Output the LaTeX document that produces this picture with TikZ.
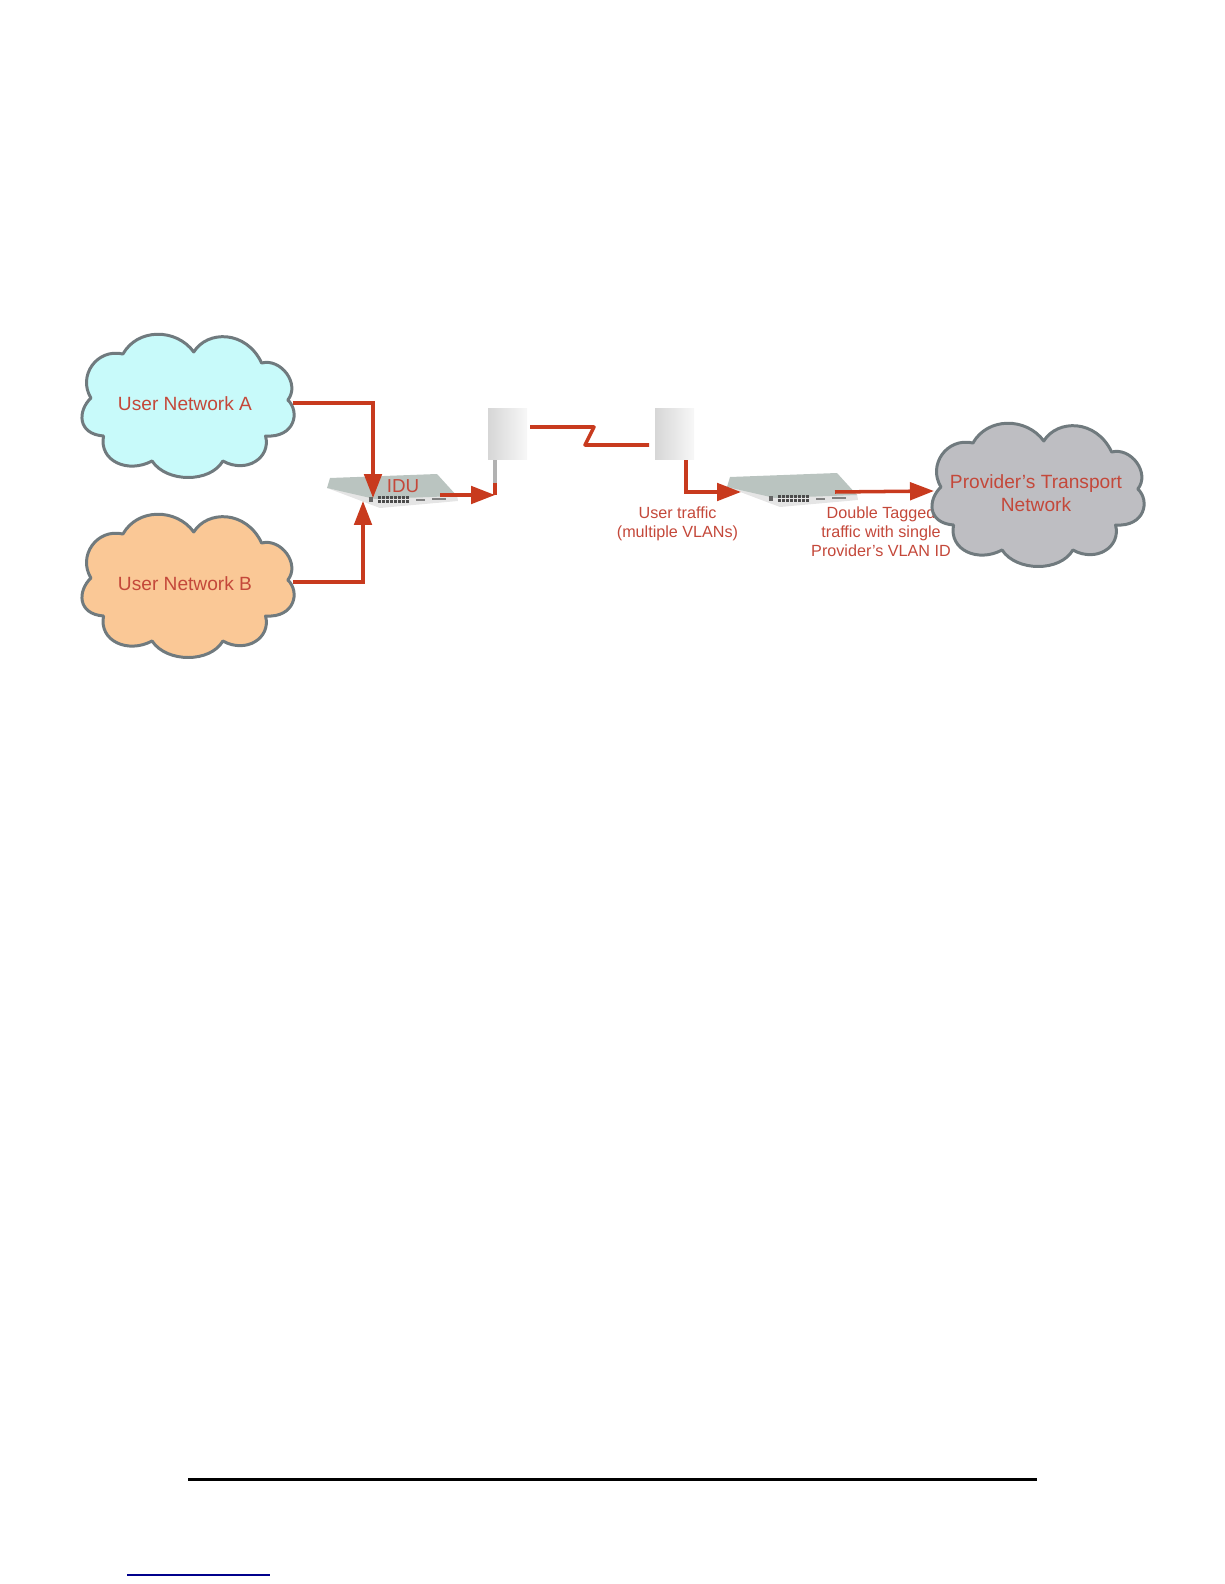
\documentclass[tikz,border=0pt]{standalone}
\usepackage{fontspec}
\setmainfont{Liberation Sans}
\usetikzlibrary{arrows.meta}
\definecolor{linkred}{RGB}{200,58,30}
\definecolor{labelred}{RGB}{196,72,58}
\definecolor{cloudedge}{RGB}{112,122,126}
\definecolor{cloudcyan}{RGB}{200,250,250}
\definecolor{cloudorange}{RGB}{250,200,150}
\definecolor{cloudgray}{RGB}{190,190,194}
\definecolor{switchtop}{RGB}{186,196,192}

\newcommand{\cloudoutline}{
  (-65,-52) .. controls (-50,-78) and (-10,-78) .. (8,-54)
  .. controls (22,-76) and (62,-76) .. (78,-43)
  .. controls (98,-48) and (118,-22) .. (105,-6)
  .. controls (118,6) and (112,32) .. (82,30)
  .. controls (88,52) and (62,68) .. (38,55)
  .. controls (25,77) and (-20,77) .. (-35,55)
  .. controls (-60,68) and (-90,55) .. (-85,30)
  .. controls (-112,28) and (-112,5) .. (-98,-8)
  .. controls (-112,-30) and (-92,-58) .. (-65,-52) -- cycle
}

\tikzset{
  cloudtext/.style={text=labelred, align=center, font=\fontsize{10.9}{13}\selectfont},
  link/.style={draw=linkred, line width=2pt},
  linkarrow/.style={link, -{Triangle[length=4.8mm, width=3.5mm]}},
  antenna/.style={rectangle, left color=black!16, right color=black!3, minimum width=0.78cm, minimum height=1.04cm, inner sep=0pt},
  traffic/.style={text=labelred, align=center, font=\fontsize{9.2}{10.9}\selectfont}
}

\begin{document}
\begin{tikzpicture}[x=0.02cm, y=-0.02cm]
    \useasboundingbox (0,0) rectangle (1224,1584);

    % this label runs under the grey cloud
    \node[traffic] (tagged) at (881,532) {Double Tagged\\traffic with single\\Provider's VLAN ID};

    \foreach \cx/\cy/\cfill in {186/406/cloudcyan, 186/586/cloudorange, 1036/495/cloudgray} {
      \draw[draw=cloudedge, line width=1.7pt, line join=round, fill=\cfill, shift={(\cx,\cy)}, xscale=0.97] \cloudoutline;
    }

    \node[cloudtext] (usera) at (185,404) {User Network A};
    \node[cloudtext] (userb) at (185,584) {User Network B};
    \node[cloudtext] (provider) at (1036,493) {Provider's Transport\\Network};

    % both switches, same drawing
    \foreach \sx/\sy in {0/0, 400/-1} {
      \begin{scope}[shift={(\sx,\sy)}]
        \fill[black!10] (327,488) -- (380,508) -- (458,501) -- (457,495) -- (375,498) -- cycle;
        \fill[switchtop] (330,478) -- (437,474) -- (457,496) -- (375,499) -- (327,488) -- cycle;
        \foreach \i in {0,...,7} {
          \fill[black!70] (378+\i*4,496) rectangle +(3,2.5);
          \fill[black!70] (378+\i*4,500) rectangle +(3,2.5);
        }
        \fill[black!60] (369,497) rectangle +(4,5);
        \fill[black!50] (416,499) rectangle +(9,2);
        \fill[black!50] (432,498) rectangle +(14,2);
      \end{scope}
    }

    \node[antenna] (anta) at (507.5,434) {};
    \node[antenna] (antb) at (674.5,434) {};

    \coordinate (cloudaout) at (293,403);
    \coordinate (cloudbout) at (293,582);
    \coordinate (iduin) at (373,498);
    \coordinate (idubelow) at (363,501);
    \coordinate (iduout) at (440,495);
    \coordinate (polea) at (495,495);
    \coordinate (stuba) at (495,483);
    \coordinate (poleb) at (686,492);
    \coordinate (swin) at (741,492);
    \coordinate (swout) at (835,492);
    \coordinate (provin) at (934,491);

    \node[text=labelred, font=\fontsize{10.7}{13}\selectfont] (idu) at (403,486) {IDU};
    \node[traffic] (usertraffic) at (677.5,523.5) {User traffic\\(multiple VLANs)};

    \draw[linkarrow] (cloudaout) -| (iduin);
    \draw[linkarrow] (cloudbout) -| (idubelow);
    \draw[linkarrow] (iduout) -- (polea);
    \draw[black!30, line width=2pt] (anta.south -| polea) -- (stuba);
    \draw[link] (stuba) -- (polea);
    \draw[linkarrow] (antb.south -| poleb) |- (swin);
    \draw[linkarrow] (swout) -- (provin);

    \coordinate (ziga) at (530,427);
    \coordinate (zigb) at (594,427);
    \coordinate (zigc) at (585,445);
    \coordinate (zigd) at (649,445);
    \draw[link, line join=round] (ziga) -- (zigb) -- (zigc) -- (zigd);

    \draw[black, line width=1.7pt] (188,1479) -- (1037,1479);
    \draw[blue!55!black, line width=0.7pt] (127,1575) -- (270,1575);
\end{tikzpicture}
\end{document}
